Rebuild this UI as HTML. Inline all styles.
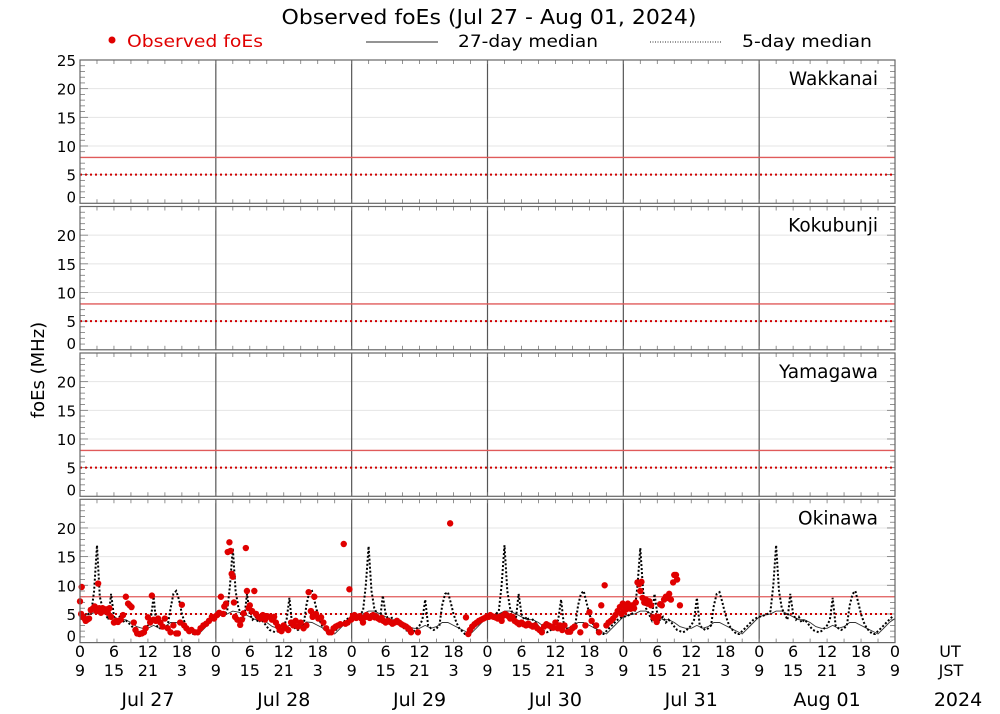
<!DOCTYPE html>
<html><head><meta charset="utf-8"><style>
html,body{margin:0;padding:0;background:#fff;}
svg{display:block;font-family:"DejaVu Sans","Liberation Sans",sans-serif;}
</style></head><body>
<svg id="chart" width="1000" height="714" viewBox="0 0 1000 714">
<text x="489" y="24" text-anchor="middle" font-size="20" textLength="415" lengthAdjust="spacingAndGlyphs">Observed foEs (Jul 27 - Aug 01, 2024)</text>
<g>
<circle cx="112" cy="40" r="3.5" fill="#e00000"/>
<text x="127" y="47" font-size="17" fill="#e00000" textLength="136" lengthAdjust="spacingAndGlyphs">Observed foEs</text>
<line x1="366" y1="42" x2="438" y2="42" stroke="#555" stroke-width="1.2"/>
<text x="458" y="47" font-size="17" textLength="140" lengthAdjust="spacingAndGlyphs">27-day median</text>
<line x1="650" y1="42" x2="722" y2="42" stroke="#555" stroke-width="1.2" stroke-dasharray="1,1.5"/>
<text x="742" y="47" font-size="17" textLength="130" lengthAdjust="spacingAndGlyphs">5-day median</text>
</g>
<text transform="translate(44,370) rotate(-90)" text-anchor="middle" font-size="18">foEs (MHz)</text>
<g id="plots"></g>
</svg>
<script>
const stations = ["Wakkanai","Kokubunji","Yamagawa","Okinawa"];
const dayLabels = ["Jul 27","Jul 28","Jul 29","Jul 30","Jul 31","Aug 01"];
const utTicks = ["0","6","12","18"];
const jstTicks = ["9","15","21","3"];
const refLevels = [8,5];
// 5-day median, half-hour resolution (Okinawa), per day
const fiveDayMedian = [
4.5,4.6,4.8,5,5.3,9,17,8,6,5,4,8.5,4.5,4,4.5,3.5,4,3.5,3,2.5,2,1.8,2,2.5,3,4,8,3,2.5,2.5,2.5,3,6,8.5,9,7.5,5,3.5,2.5,2,1.5,1.5,2,2.5,3,3.5,4,4.3,
4.5,4.6,4.8,5,5.5,10,16.5,9,6,5,4,8.5,5,4,4.5,3.5,4,3.5,2.8,2.2,2,1.8,2,2.5,3,4,7.8,3,2.5,2.2,2.5,3,6.5,8.8,9,7,5,3.5,2.5,2,1.5,1.5,2,2.5,3,3.5,4,4.3,
4.5,4.6,4.8,5,5.5,10,16.8,9,6,5,4,8.2,5,4,4.5,3.5,4,3.5,2.8,2.2,2,1.8,2,2.5,3,4,7.5,3,2.5,2.2,2.5,3,6.5,8.5,8.8,7,5,3.5,2.5,2,1.5,1.5,2,2.5,3,3.5,4,4.3,
4.5,4.6,4.8,5,5.5,10,17,9,6,5,4,8.5,5,4,4.5,3.5,4,3.5,2.8,2.2,2,1.8,2,2.5,3,4,7.5,3,2.5,2.2,2.5,3,6.5,8.5,9,7,5,3.5,2.5,2,1.5,1.5,2,2.5,3,3.5,4,4.3,
4.5,4.6,4.8,5,5.5,10,16.5,9,6,5,4,8.5,5,4,4.5,3.5,4,3.5,2.8,2.2,2,1.8,2,2.5,3,4,7.8,3,2.5,2.2,2.5,3,6.5,8.5,8.8,7,5,3.5,2.5,2,1.5,1.5,2,2.5,3,3.5,4,4.3,
4.5,4.6,4.8,5,5.5,10,17,9,6,5,4,8.5,5,4,4.5,3.5,4,3.5,2.8,2.2,2,1.8,2,2.5,3,4,7.8,3,2.5,2.2,2.5,3,6.5,8.5,9,7,5,3.5,2.5,2,1.5,1.5,2,2.5,3,3.5,4,4.5
];
// 27-day median, hourly resolution (Okinawa)
const medianDays27 = [
4.5,4.8,5,5.5,5.5,5,4.5,4,4,3.5,2.8,2.5,2.5,3,2.5,2.8,3.5,3.5,3,2.5,2,1.5,2.5,3.5,
4.5,4.8,5,5.5,5.3,5,4.5,4,4,3.5,2.8,2.5,2.6,3,2.5,2.8,3.6,3.5,3,2.5,2,1.5,2.5,3.5,
4.5,4.8,5,5.5,5.5,5,4.5,4,4,3.5,2.8,2.5,2.5,3,2.5,2.8,3.5,3.5,3,2.5,2,1.5,2.5,3.5,
4.5,4.8,5,5.5,5.5,5,4.5,4,4,3.5,2.8,2.5,2.5,3,2.5,2.8,3.5,3.5,3,2.5,2,1.5,2.5,3.5,
4.5,4.8,5,5.5,5.5,5,4.5,4,4,3.5,2.8,2.5,2.5,3,2.5,2.8,3.5,3.5,3,2.5,2,1.5,2.5,3.5,
4.5,4.8,5,5.5,5.5,5,4.5,4,4,3.5,2.8,2.5,2.5,3,2.5,2.8,3.5,3.5,3,2.5,2,1.5,2.5,3.5,4.2
];
// observed foEs at Okinawa: hours since Jul 27 00UT
const obsHours = [0,0.2,0.3,0.5,0.8,1,1.3,1.6,1.9,2.3,2.6,2.9,3.2,3.4,3.7,4,4.3,4.6,4.9,5.2,5.5,6,6.4,6.7,7.2,7.6,8.1,8.5,8.8,9.1,9.5,9.8,10.1,10.5,10.9,11.3,11.6,12,12.4,12.7,13,13.4,13.8,14.2,14.6,15,15.5,16,16.5,17,17.3,17.7,18,18.4,18.8,19.3,19.7,20.3,20.8,21.3,21.8,22.3,22.8,23.3,23.7,
24.2,24.6,24.9,25.3,25.5,25.8,26.1,26.4,26.6,26.8,27,27.2,27.4,27.8,28.3,28.6,28.9,29.3,29.5,29.8,30,30.4,30.8,31.1,31.5,31.9,32.3,32.7,33.1,33.5,33.9,34.3,34.6,35,35.3,35.6,36,36.4,36.8,37.3,37.7,38.1,38.5,39,39.5,40,40.4,40.8,41.1,41.4,41.7,42.1,42.6,43,43.5,44,44.4,44.8,45.2,45.6,46,46.6,46.9,47.3,47.6,47.9,
48.2,48.5,48.8,49.1,49.4,49.7,50,50.3,50.6,50.9,51.2,51.5,51.8,52.1,52.4,52.7,53,53.3,53.6,54,54.4,54.8,55.2,55.6,56,56.4,56.8,57.2,57.6,58,58.3,58.5,59.7,65.4,68.2,68.6,68.9,69.3,69.7,70.1,70.5,70.9,71.3,71.7,
72.2,72.5,72.8,73.1,73.4,73.8,74.1,74.5,74.8,75.1,75.4,75.7,76,76.4,76.8,77.2,77.6,78,78.4,78.8,79.2,79.6,80,80.4,80.8,81.2,81.6,82,82.4,82.8,83.2,83.6,84,84.4,84.8,85.2,85.6,86.2,86.6,87,87.4,88.4,89.3,90,90.4,91.2,91.7,92.1,92.7,93,93.4,93.8,94.2,94.6,95,95.4,95.7,95.9,
96.1,96.3,96.5,96.8,97,97.3,97.6,97.9,98.2,98.5,98.8,99,99.2,99.4,99.7,100,100.3,100.6,100.9,101.3,101.6,101.9,102.2,102.5,102.8,103.2,103.5,103.8,104.1,104.4,104.8,105,105.3,105.5,106];
const obsValues = [7.2,5,9.7,4.5,4.2,3.8,4,4.2,5.7,6,6.3,5.5,10.3,6,5.2,6,5.5,5.8,5.2,6,4.5,3.5,3.8,3.6,4,4.8,8,6.8,6.5,6.2,3.5,2.2,1.6,1.5,1.6,1.8,2.5,4.4,3.5,8.2,4,3.8,4.2,3.5,2.8,4.2,2.5,1.8,3,1.6,1.6,3.5,6.6,3,2.5,2,2.2,1.8,1.8,2.5,3,3.3,3.8,4.5,4.2,
4.8,5.2,8,5,6.3,6.8,15.8,17.5,16,12,11.5,7,4.5,4,3.1,4,5.1,16.5,9,6,6.5,5.5,9,5,4.5,4.2,4.8,4,4.6,4.5,4,4.5,3.5,2.8,2.2,2,3,2.5,2.2,3.5,3,3.8,2.8,3.5,2.5,3,8.8,5.5,4.5,8,5,4.2,4.4,3.5,2.5,1.8,1.8,2.5,2.8,3,3.2,17.2,3.3,3.5,9.3,4,
4.5,4.8,4.3,4.5,4.6,4.2,3.5,4.4,4.8,4.5,4.3,4.6,4.8,4.4,4.5,4.2,4,4.3,3.8,3.5,3.8,3.6,3.3,3.5,3.8,3.5,3.2,3,2.8,2.5,2.2,1.8,1.8,20.8,4.4,1.5,2.2,2.8,3.2,3.5,3.8,4,4.2,4.4,
4.5,4.8,4.6,4.5,4.4,4.2,4.5,3.8,4.7,5,4.8,4.6,4.2,4.5,3.8,3.5,3.2,3.5,3.2,3,3.3,3,2.8,3,2.5,2.2,1.8,2.8,3.2,3,2.8,2.6,3.5,2.5,3,2.2,3,1.9,1.9,2.5,2.8,1.8,3,5.3,3.8,3,1.8,6.5,10,3,3.5,3.8,4.2,4.8,5.5,6.2,5,6.8,
5.5,6.5,5.8,6.8,6.2,5.9,6.5,6,7,10.5,10.2,9,10.6,7.8,7,7.5,6.8,7.2,6.5,4.4,4.2,3.6,4.5,6.7,6.5,7.5,8,7.8,8.5,7.5,10.5,11.8,11.8,11,6.5];

const NS="http://www.w3.org/2000/svg";
const plots=document.getElementById('plots');
const X0=80,X1=895,PH=143.3,tops=[60,206.5,353,499.3];
const totalH=144;
const xs=h=>X0+h*(X1-X0)/totalH;
function mk(tag,attrs,parent){const e=document.createElementNS(NS,tag);for(const k in attrs)e.setAttribute(k,attrs[k]);(parent||plots).appendChild(e);return e;}

stations.forEach((st,i)=>{
  const top=tops[i],bot=top+PH;
  const ys=v=>bot-v*PH/25;
  const g=mk('g',{});
  
  
  [5,10,15,20].forEach(v=>{const l=mk('line',{x1:X0,x2:X1,y1:ys(v),y2:ys(v),stroke:'#e4e4e4','stroke-width':1},g);
    });
  for(let d=1;d<6;d++){const l=mk('line',{x1:xs(d*24),x2:xs(d*24),y1:top,y2:bot,stroke:'#555','stroke-width':1.2},g);
    }
  for(let v=1;v<25;v++){const len=(v%5===0)?8:5;
    mk('line',{x1:X0,x2:X0+len,y1:ys(v),y2:ys(v),stroke:'#777','stroke-width':0.8},g);
    mk('line',{x1:X1-len,x2:X1,y1:ys(v),y2:ys(v),stroke:'#777','stroke-width':0.8},g);}
  for(let h=3;h<totalH;h+=3){mk('line',{x1:xs(h),x2:xs(h),y1:top,y2:top+4,stroke:'#777','stroke-width':0.8},g);
    mk('line',{x1:xs(h),x2:xs(h),y1:bot-4,y2:bot,stroke:'#777','stroke-width':0.8},g);}
  const r1=mk('line',{x1:X0,x2:X1,y1:ys(refLevels[0]),y2:ys(refLevels[0]),stroke:'#e05a5a','stroke-width':1.3},g);
  
  const r2=mk('line',{x1:X0,x2:X1,y1:ys(refLevels[1]),y2:ys(refLevels[1]),stroke:'#d00000','stroke-width':2,'stroke-dasharray':'2,3'},g);
  
  const labs=i===0?[0,5,10,15,20,25]:[0,5,10,15,20];
  labs.forEach(v=>{let y=ys(v)+6; if(v===0)y=bot-1; if(v===25)y=top+6;
    const t=mk('text',{x:X0-4,y:y,'text-anchor':'end','font-size':15},g);t.textContent=v;
    });
  const sn=mk('text',{x:878,y:top+25,'text-anchor':'end','font-size':18.5},g);sn.textContent=st;
  
  if(st==='Okinawa'){
    let p='';medianDays27.forEach((v,k)=>{p+=(k?'L':'M')+xs(k).toFixed(1)+','+ys(v).toFixed(1);});
    const m27=mk('path',{d:p,fill:'none',stroke:'#333','stroke-width':0.9},g);
    
    let q='';fiveDayMedian.forEach((v,k)=>{q+=(k?'L':'M')+xs(k*0.5).toFixed(1)+','+ys(v).toFixed(1);});
    const m5=mk('path',{d:q,fill:'none',stroke:'#000','stroke-width':2,'stroke-dasharray':'2,2'},g);
    
    obsHours.forEach((h,k)=>{const c=mk('circle',{cx:xs(h),cy:ys(obsValues[k]),r:3.2,fill:'#e00000'},g);
      });
  }
  const fr=mk('rect',{x:X0,y:top,width:X1-X0,height:PH,fill:'none',stroke:'#666','stroke-width':1.2},g);
  
});
for(let d=0;d<=6;d++){for(let j=0;j<4;j++){if(d===6&&j>0)break;
  const x=xs(d*24+j*6);
  const a=mk('text',{x:x,y:657,'text-anchor':'middle','font-size':16});a.textContent=utTicks[j];
  
  const b=mk('text',{x:x,y:676,'text-anchor':'middle','font-size':16});b.textContent=jstTicks[j];
  }}
dayLabels.forEach((s,d)=>{const t=mk('text',{x:xs(d*24+12),y:706,'text-anchor':'middle','font-size':19});t.textContent=s;
  });
[['UT',950,657,16],['JST',951,676,16],['2024',958,706,19]].forEach(([s,x,y,f])=>{const t=mk('text',{x:x,y:y,'text-anchor':'middle','font-size':f});t.textContent=s;
  });
</script>
</body></html>
